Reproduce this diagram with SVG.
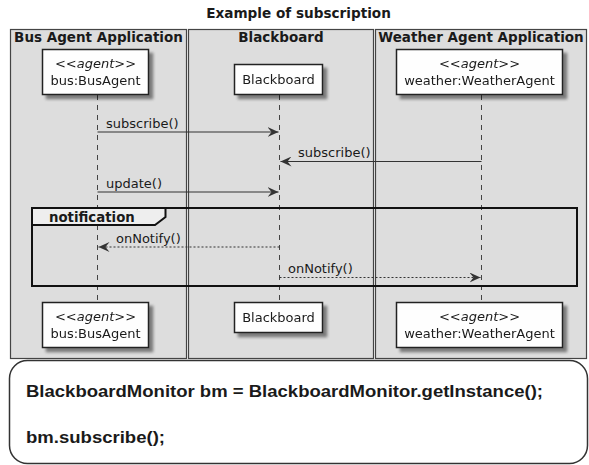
<svg xmlns="http://www.w3.org/2000/svg" width="589" height="465" viewBox="0 0 589 465">
  <style>
    text { font-family: "DejaVu Sans", "Liberation Sans", sans-serif; fill: #1a1a1a; }
    .title { font-size: 13.6px; font-weight: bold; }
    .region { fill: #DDDDDD; stroke: #444; stroke-width: 1.2; }
    .rtitle { font-size: 13.5px; font-weight: bold; text-anchor: middle; }
    .part { fill: #FEFEFE; stroke: #222; stroke-width: 1.5; }
    .plabel { font-size: 13px; text-anchor: middle; }
    .stereo { font-style: italic; }
    .life { stroke: #444; stroke-width: 1; stroke-dasharray: 5 5; fill: none; }
    .msg { stroke: #333; stroke-width: 1.2; fill: none; }
    .reply { stroke: #333; stroke-width: 1.1; stroke-dasharray: 2 2; fill: none; }
    .mlabel { font-size: 13px; }
    .frame { fill: none; stroke: #111; stroke-width: 2; }
    .tab { fill: #EEEEEE; stroke: #111; stroke-width: 2; }
    .code { fill: #FFFFFF; stroke: #333; stroke-width: 1.5; }
    .ctext { font-family: "Liberation Sans", Arial, sans-serif; font-weight: bold; font-size: 16.5px; }
  </style>
  <defs>
    <filter id="shadow" x="-20%" y="-20%" width="150%" height="160%">
      <feGaussianBlur in="SourceAlpha" stdDeviation="1.8"/>
      <feOffset dx="4" dy="4" result="b"/>
      <feComponentTransfer><feFuncA type="linear" slope="0.45"/></feComponentTransfer>
      <feMerge><feMergeNode/><feMergeNode in="SourceGraphic"/></feMerge>
    </filter>
    <marker id="arrow" viewBox="0 0 12 10" refX="11" refY="5" markerWidth="12" markerHeight="10" markerUnits="userSpaceOnUse" orient="auto">
      <polygon points="0,0 11,5 0,10 4,5" fill="#333"/>
    </marker>
  </defs>

  <rect width="589" height="465" fill="#FFFFFF"/>

  <text class="title" x="298.5" y="18" text-anchor="middle">Example of subscription</text>

  <!-- application boxes -->
  <g id="box-bus">
    <rect class="region" x="10.5" y="29.5" width="176" height="329"/>
    <text class="rtitle" x="98.5" y="42">Bus Agent Application</text>
  </g>
  <g id="box-blackboard">
    <rect class="region" x="188.5" y="29.5" width="185" height="329"/>
    <text class="rtitle" x="281" y="42">Blackboard</text>
  </g>
  <g id="box-weather">
    <rect class="region" x="375.5" y="29.5" width="211" height="329"/>
    <text class="rtitle" x="481" y="42">Weather Agent Application</text>
  </g>

  <!-- lifelines -->
  <g id="lifelines">
    <line class="life" x1="97.5" y1="95" x2="97.5" y2="302"/>
    <line class="life" x1="279.5" y1="95" x2="279.5" y2="302"/>
    <line class="life" x1="481.5" y1="95" x2="481.5" y2="302"/>
  </g>

  <!-- participants -->
  <g id="bus-top" filter="url(#shadow)">
    <rect class="part" x="42.5" y="49.5" width="106" height="45"/>
    <text class="plabel stereo" x="95.5" y="68">&lt;&lt;agent&gt;&gt;</text>
    <text class="plabel" x="95.5" y="85">bus:BusAgent</text>
  </g>
  <g id="blackboard-top" filter="url(#shadow)">
    <rect class="part" x="234.5" y="64.5" width="88" height="30"/>
    <text class="plabel" x="278.5" y="84">Blackboard</text>
  </g>
  <g id="weather-top" filter="url(#shadow)">
    <rect class="part" x="396.5" y="49.5" width="166" height="45"/>
    <text class="plabel stereo" x="479.5" y="68">&lt;&lt;agent&gt;&gt;</text>
    <text class="plabel" x="479.5" y="85">weather:WeatherAgent</text>
  </g>

  <g id="bus-bottom" filter="url(#shadow)">
    <rect class="part" x="42.5" y="302.5" width="106" height="45"/>
    <text class="plabel stereo" x="95.5" y="321">&lt;&lt;agent&gt;&gt;</text>
    <text class="plabel" x="95.5" y="338">bus:BusAgent</text>
  </g>
  <g id="blackboard-bottom" filter="url(#shadow)">
    <rect class="part" x="234.5" y="302.5" width="88" height="30"/>
    <text class="plabel" x="278.5" y="322">Blackboard</text>
  </g>
  <g id="weather-bottom" filter="url(#shadow)">
    <rect class="part" x="396.5" y="302.5" width="166" height="45"/>
    <text class="plabel stereo" x="479.5" y="321">&lt;&lt;agent&gt;&gt;</text>
    <text class="plabel" x="479.5" y="338">weather:WeatherAgent</text>
  </g>

  <!-- notification fragment -->
  <g id="frame-notification">
    <rect class="frame" x="32" y="208" width="545" height="78"/>
    <polygon class="tab" points="32,208 165.5,208 165.5,217 155,225 32,225"/>
    <text x="49" y="222" font-size="13.3" font-weight="bold">notification</text>
  </g>

  <!-- messages -->
  <g id="connectors">
    <line class="msg" x1="97.5" y1="132" x2="278.5" y2="132" marker-end="url(#arrow)"/>
    <text class="mlabel" x="106" y="128">subscribe()</text>

    <line class="msg" x1="481.5" y1="161.5" x2="280.5" y2="161.5" marker-end="url(#arrow)"/>
    <text class="mlabel" x="298" y="157">subscribe()</text>

    <line class="msg" x1="97.5" y1="192" x2="278.5" y2="192" marker-end="url(#arrow)"/>
    <text class="mlabel" x="106" y="188">update()</text>

    <line class="reply" x1="279.5" y1="247" x2="98.5" y2="247" marker-end="url(#arrow)"/>
    <text class="mlabel" x="116" y="243">onNotify()</text>

    <line class="reply" x1="279.5" y1="277.5" x2="480.5" y2="277.5" marker-end="url(#arrow)"/>
    <text class="mlabel" x="288" y="273">onNotify()</text>
  </g>

  <!-- code note -->
  <g id="code">
    <rect class="code" x="9.5" y="360.5" width="578" height="103" rx="18" ry="18"/>
    <text class="ctext" x="26" y="397" textLength="517" lengthAdjust="spacingAndGlyphs">BlackboardMonitor bm = BlackboardMonitor.getInstance();</text>
    <text class="ctext" x="26" y="443" textLength="139" lengthAdjust="spacingAndGlyphs">bm.subscribe();</text>
  </g>
</svg>
